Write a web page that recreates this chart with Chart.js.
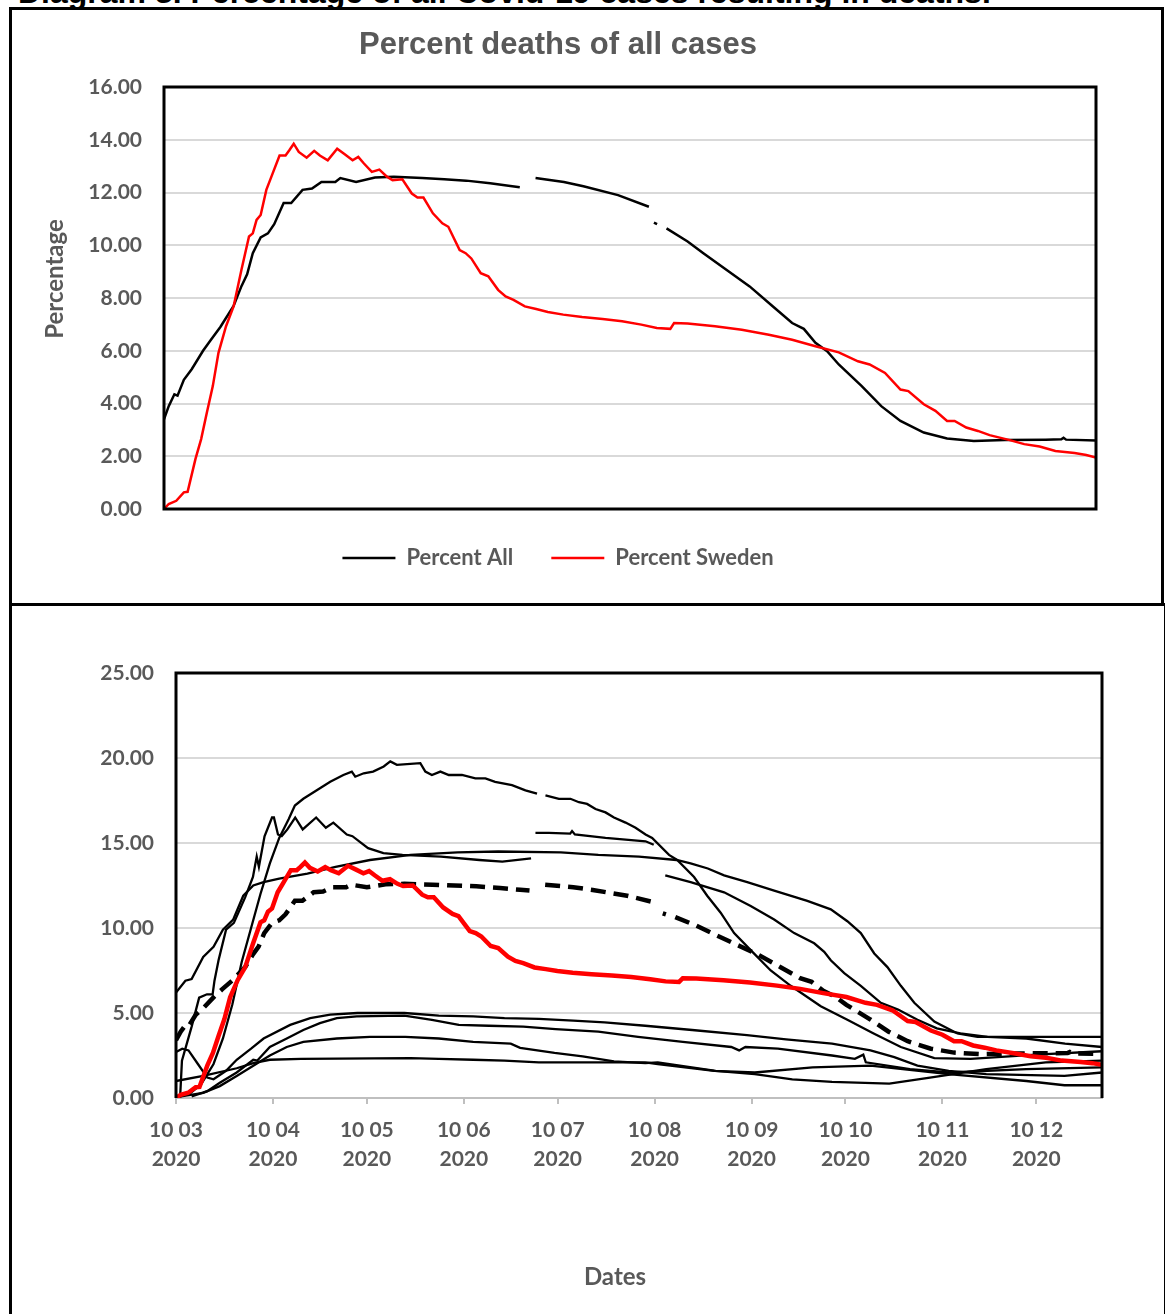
<!DOCTYPE html>
<html>
<head>
<meta charset="utf-8">
<title>Percent deaths of all cases</title>
<script src="https://cdn.jsdelivr.net/npm/chart.js@4.4.1/dist/chart.umd.min.js"></script>
<style>
  html, body { margin: 0; padding: 0; background: #fff; }
  body { width: 1165px; height: 1314px; position: relative; overflow: hidden; }
  #heading {
    position: absolute; left: 18px; top: -24px;
    font: bold 32px "Liberation Sans", Arial, sans-serif; line-height: 32px;
    white-space: nowrap; color: #000;
  }
  .frame { position: absolute; box-sizing: border-box; border: 3px solid #000; }
  #frame-top { left: 9px; top: 7px; width: 1155px; height: 599px; }
  #frame-bottom { left: 9px; top: 603px; width: 1158px; height: 800px; }
  canvas { position: absolute; left: 0; }
  #topChart { top: 0; }
  #bottomChart { top: 605px; }
</style>
</head>
<body>
<div id="heading">Diagram 3. Percentage of all Covid-19 cases resulting in deaths.</div>
<div class="frame" id="frame-top"></div>
<div class="frame" id="frame-bottom"></div>
<canvas id="topChart" width="1165" height="605"></canvas>
<canvas id="bottomChart" width="1165" height="709"></canvas>

<script>
// x values are days counted from 10 March 2020 (day 0) to 31 Dec 2020 (day 296)
const tickDays = [0, 31, 61, 92, 122, 153, 184, 214, 245, 275];
const monthLabels = ['10 03', '10 04', '10 05', '10 06', '10 07', '10 08', '10 09', '10 10', '10 11', '10 12'];
const yearLabel = '2020';

// Percent All (black in top chart, dashed in bottom chart); null = missing days
const allDays = [0, 1.5, 3.3, 4.3, 6.3, 8.8, 12.4, 14.8, 17.9, 22.1, 24.6, 26.4, 28.2, 30.7, 33, 35, 38, 40.4, 44, 47,
  50, 54.4, 56, 61, 67, 73, 82, 89, 96, 103.6, 110, 113, 115.5, 118, 127, 133.2, 144.2, 154, 154.8, 155.6,
  156.6, 158, 159.6, 166.3, 171.3, 178.6, 186, 193.4, 199.5, 203.2, 206.9, 210.6, 214.3, 221.6, 227.8, 233.9, 241.3, 248.7, 257.2, 267,
  280, 285, 285.7, 286.5, 296];
const allPct = [3.4, 3.9, 4.35, 4.3, 4.9, 5.3, 6.0, 6.4, 6.9, 7.7, 8.45, 8.9, 9.7, 10.3, 10.45, 10.8, 11.6, 11.6, 12.1, 12.15,
  12.4, 12.4, 12.55, 12.4, 12.57, 12.6, 12.55, 12.5, 12.45, 12.35, 12.25, 12.2, null, 12.55, 12.4, 12.24, 11.9, 11.46, null, 10.86,
  10.8, null, 10.64, 10.14, 9.7, 9.07, 8.44, 7.68, 7.05, 6.83, 6.3, 5.98, 5.48, 4.66, 3.9, 3.34, 2.9, 2.67, 2.58, 2.62,
  2.63, 2.64, 2.7, 2.63, 2.6];

// Percent Sweden (red)
const sweDays = [0, 1.5, 3.9, 6.3, 7.5, 10, 11.8, 13.6, 15.5, 17.3, 19.7, 22.1, 24.6, 27, 28.2, 29.4, 30.7, 32.5, 34.3, 36.7,
  38.6, 39.8, 41.2, 42.8, 45.3, 47.7, 49.5, 52, 55, 57.4, 59.9, 61.7, 63.5, 66, 68.4, 70.8, 72.6, 75.7, 78.7, 80.5,
  82.4, 85.4, 88.4, 90.3, 93.9, 95.8, 97.6, 100.6, 103, 106.1, 108.5, 111, 114.6, 118.2, 121.9, 126.8, 132.8, 139.3, 145.5, 151.6,
  156.5, 160.8, 162, 166.3, 175, 183.5, 192.1, 199.5, 206.9, 214.3, 220.4, 224.1, 229, 233.9, 236.4, 241.3, 245, 248.7, 251.1, 254.8,
  258.5, 262.2, 268.3, 273.2, 278.1, 283.1, 289.2, 292.9, 296];
const swePct = [0, 0.19, 0.31, 0.63, 0.65, 1.9, 2.65, 3.65, 4.66, 5.92, 6.93, 7.68, 9.07, 10.33, 10.45, 10.96, 11.15, 12.1, 12.66, 13.4,
  13.4, 13.6, 13.85, 13.54, 13.32, 13.58, 13.4, 13.22, 13.66, 13.45, 13.22, 13.35, 13.1, 12.78, 12.87, 12.6, 12.47, 12.5, 11.96, 11.81,
  11.81, 11.21, 10.83, 10.7, 9.82, 9.7, 9.5, 8.94, 8.82, 8.31, 8.06, 7.93, 7.68, 7.58, 7.47, 7.37, 7.28, 7.2, 7.12, 6.99,
  6.86, 6.83, 7.05, 7.03, 6.93, 6.8, 6.61, 6.42, 6.17, 5.94, 5.6, 5.48, 5.16, 4.53, 4.47, 3.97, 3.72, 3.34, 3.34, 3.09,
  2.96, 2.8, 2.62, 2.46, 2.37, 2.2, 2.12, 2.05, 1.95];

// other countries (thin black lines, bottom chart)
const aDays = [0, 3, 5, 8.7, 12, 15, 18.3, 21.5, 24.7, 28, 33, 42, 51, 62, 75, 90, 103, 123, 135, 148,
  160, 164.5, 170, 175.2, 182.6, 191.2, 201.8, 209.3, 214.6, 218.9, 223.2, 227.4, 231.7, 236, 242.4, 249.8, 256.2, 270, 296];
const aPct = [6.2, 6.9, 7.0, 8.3, 8.9, 9.9, 10.5, 11.9, 12.5, 12.7, 12.9, 13.2, 13.6, 14.0, 14.3, 14.45, 14.5, 14.45, 14.3, 14.2,
  14.0, 13.8, 13.5, 13.1, 12.7, 12.2, 11.6, 11.1, 10.4, 9.7, 8.5, 7.7, 6.6, 5.6, 4.5, 3.8, 3.6, 3.6, 3.6];

const bDays = [1.3, 1.9, 5, 7.4, 9.9, 11.7, 12.3, 13.6, 16, 18.5, 22.1, 24.6, 25.8, 26.5, 28.3, 30.7, 31.3, 32.6, 33.8, 35.6,
  38.1, 40.5, 44.8, 47.9, 50.3, 54.6, 56.4, 61.4, 66.3, 72.4, 84.7, 97, 104.3, 113.5, 114.2, 114.9, 119.2, 126, 126.6, 127.5,
  137.3, 150.1, 152.7, 154.5, 156.4, 164.5, 175.2, 183.7, 191.2, 197.6, 204, 207.2, 209.3, 213.6, 218.9, 225.3, 230.8, 237, 243.2, 250.7,
  259.4, 271.8, 284.2, 296];
const bPct = [0, 2.2, 4.2, 5.9, 6.1, 6.1, 6.9, 8.1, 9.9, 10.3, 11.8, 13.0, 14.2, 13.6, 15.4, 16.5, 16.5, 15.5, 15.4, 15.8,
  16.5, 15.8, 16.5, 15.9, 16.2, 15.5, 15.4, 14.7, 14.4, 14.3, 14.2, 14.0, 13.9, 14.1, null, 15.6, 15.6, 15.55, 15.7, 15.5,
  15.3, 15.1, 14.9, null, 13.1, 12.7, 12.1, 11.3, 10.5, 9.7, 9.1, 8.6, 8.1, 7.35, 6.6, 5.6, 5.2, 4.6, 4.1, 3.8,
  3.6, 3.5, 3.2, 3.0];

const cDays = [4, 8, 12, 15, 18, 21, 24, 27, 30, 33, 36, 38, 40.7, 45, 49.3, 53.5, 56.2, 57.3, 60, 63,
  66.4, 68.5, 70.6, 78.1, 79.7, 81.8, 84.5, 87.2, 91.4, 95.7, 98.9, 102, 107.4, 111.7, 115.4, 116.7, 118.1, 122.4, 126.1, 128.8,
  131.4, 134.1, 137.3, 140, 143.7, 146.9, 150.1, 152.2, 157.6, 160.2, 165.6, 169.8, 174.1, 178.4, 183.7, 190.1, 196.5, 206.1, 214.6, 223,
  231.7, 242.4, 254, 275, 296];
const cPct = [0.2, 0.8, 2.0, 3.5, 5.5, 8.0, 10.0, 12.0, 13.8, 15.3, 16.4, 17.2, 17.6, 18.1, 18.6, 19.0, 19.2, 18.9, 19.1, 19.2,
  19.5, 19.8, 19.6, 19.7, 19.2, 19.0, 19.2, 19.0, 19.0, 18.8, 18.8, 18.6, 18.4, 18.1, 17.9, null, 17.8, 17.6, 17.6, 17.4,
  17.3, 17.0, 16.8, 16.5, 16.2, 15.9, 15.5, 15.3, 14.3, 14.0, 13.0, 11.9, 10.9, 9.7, 8.7, 7.5, 6.6, 5.4, 4.6, 3.8,
  3.0, 2.35, 2.3, 2.55, 2.75];

const dDays = [0, 2, 4, 7, 10, 12, 16, 19.4, 24, 28, 36.5, 42.9, 49.3, 58, 73, 84, 95, 105, 116, 127,
  137, 150, 165, 182.5, 195, 209.7, 222, 229.6, 237, 247, 259, 284, 296];
const dPct = [2.7, 2.9, 2.8, 2.0, 1.2, 1.1, 1.6, 2.25, 2.9, 3.5, 4.3, 4.7, 4.9, 5.0, 5.0, 4.85, 4.8, 4.7, 4.65, 4.55,
  4.45, 4.25, 4.0, 3.7, 3.45, 3.2, 2.8, 2.4, 1.9, 1.6, 1.4, 1.3, 1.5];

const eDays = [5, 10, 14, 19.4, 24.7, 26, 30, 35.4, 40.7, 46, 51.4, 57.8, 73, 81.8, 90.4, 100, 111, 121.3, 135, 147.7,
  162, 177.5, 180, 182, 192.4, 209.7, 217, 219.7, 220.5, 234.6, 247, 271.8, 296];
const ePct = [0.1, 0.4, 0.9, 1.5, 2.25, 2.2, 3.0, 3.5, 4.0, 4.4, 4.7, 4.8, 4.85, 4.6, 4.3, 4.25, 4.2, 4.05, 3.9, 3.6,
  3.3, 3.0, 2.8, 3.0, 2.9, 2.5, 2.3, 2.55, 2.1, 1.7, 1.5, 1.7, 1.8];

const fDays = [0, 8.7, 14, 19.4, 24.7, 30, 35.4, 40.7, 51.4, 62, 73.3, 84, 95, 107, 110, 121, 130, 140, 150, 154,
  172.5, 185, 197, 209.7, 228, 241, 259, 278, 296];
const fPct = [0.05, 0.3, 0.7, 1.3, 1.9, 2.5, 3.0, 3.3, 3.5, 3.6, 3.6, 3.5, 3.3, 3.2, 2.95, 2.65, 2.45, 2.15, 2.05, 2.1,
  1.6, 1.4, 1.1, 0.95, 0.85, 1.2, 1.7, 2.1, 2.2];

const gDays = [0, 8.7, 19.4, 24.7, 30, 40, 75, 84, 95, 105, 116, 150, 154, 172, 185, 203.5, 222, 247, 271.8, 284, 296];
const gPct = [1.0, 1.3, 1.75, 2.05, 2.25, 2.3, 2.35, 2.3, 2.25, 2.2, 2.1, 2.1, 2.0, 1.6, 1.5, 1.8, 1.9, 1.4, 1.0, 0.75, 0.75];

function pairs(days, vals) {
  return days.map((d, i) => ({ x: d, y: vals[i] }));
}

const grey = '#595959';
const tickFont = { family: 'Lato', size: 21, weight: 'bold' };
const labelFont = { family: 'Lato', size: 22, weight: 'bold' };
const captionFont = 'bold 24px Lato';

// black frame around the plot area (Excel style)
const plotFrame = {
  id: 'plotFrame',
  afterDatasetsDraw(chart, args, opts) {
    const { ctx, chartArea: a } = chart;
    ctx.save();
    ctx.strokeStyle = '#000';
    ctx.lineWidth = 3;
    ctx.beginPath();
    ctx.moveTo(a.left, a.bottom);
    ctx.lineTo(a.left, a.top);
    ctx.lineTo(a.right, a.top);
    ctx.lineTo(a.right, a.bottom);
    if (opts.closed) ctx.closePath();
    ctx.stroke();
    ctx.restore();
  }
};

// axis captions sit a little off-centre in the original, so they are placed by hand
const axisCaption = {
  id: 'axisCaption',
  afterDraw(chart, args, opts) {
    if (!opts.text) return;
    const ctx = chart.ctx;
    ctx.save();
    ctx.translate(opts.x, opts.y);
    if (opts.vertical) ctx.rotate(-Math.PI / 2);
    ctx.font = captionFont;
    ctx.fillStyle = grey;
    ctx.textAlign = 'center';
    ctx.textBaseline = 'middle';
    ctx.fillText(opts.text, 0, 0);
    ctx.restore();
  }
};

// top chart
new Chart(document.getElementById('topChart'), {
  type: 'line',
  data: {
    datasets: [
      { label: 'Percent Sweden', data: pairs(sweDays, swePct), borderColor: '#ff0000', backgroundColor: '#ff0000', borderWidth: 2.5 },
      { label: 'Percent All', data: pairs(allDays, allPct), borderColor: '#000', backgroundColor: '#000', borderWidth: 2.5 }
    ]
  },
  options: {
    responsive: false,
    animation: false,
    events: [],
    elements: { point: { radius: 0 }, line: { tension: 0 } },
    layout: { padding: { left: 20, right: 69, top: 0, bottom: 26 } },
    plugins: {
      tooltip: { enabled: false },
      plotFrame: { closed: true },
      axisCaption: { text: 'Percentage', x: 55, y: 279, vertical: true },
      title: {
        display: true,
        text: 'Percent deaths of all cases',
        color: grey,
        font: { family: 'Liberation Sans', size: 31, weight: 'bold' },
        padding: { top: 26.4, bottom: 23.4 }
      },
      legend: {
        position: 'bottom',
        labels: {
          sort: (a, b) => b.datasetIndex - a.datasetIndex,
          usePointStyle: true,
          pointStyle: 'line',
          pointStyleWidth: 53,
          color: grey,
          font: labelFont,
          padding: 38
        }
      }
    },
    scales: {
      x: { type: 'linear', min: 0, max: 296, display: false },
      y: {
        min: 0,
        max: 16,
        ticks: { stepSize: 2, callback: v => v.toFixed(2), color: grey, font: tickFont, padding: 22 },
        grid: { color: '#d9d9d9', lineWidth: 2, drawTicks: false },
        border: { display: false },
        afterFit: s => { s.width = 144; }
      }
    }
  },
  plugins: [plotFrame, axisCaption]
});

// bottom chart: all countries, Sweden in red, overall average dashed
const otherSeries = [
  [aDays, aPct], [bDays, bPct], [cDays, cPct], [dDays, dPct], [eDays, ePct], [fDays, fPct], [gDays, gPct]
];

new Chart(document.getElementById('bottomChart'), {
  type: 'line',
  data: {
    datasets: [
      { label: 'Percent Sweden', data: pairs(sweDays, swePct), borderColor: '#ff0000', borderWidth: 4.5 },
      { label: 'Percent All', data: pairs(allDays, allPct), borderColor: '#000', borderWidth: 4.5, borderDash: [15, 8] }
    ].concat(otherSeries.map((s, i) => ({
      label: 'Country ' + (i + 1),
      data: pairs(s[0], s[1]),
      borderColor: '#000',
      borderWidth: 2.3
    })))
  },
  options: {
    responsive: false,
    animation: false,
    events: [],
    elements: { point: { radius: 0 }, line: { tension: 0 } },
    layout: { padding: { left: 0, right: 63, top: 68, bottom: 0 } },
    plugins: {
      tooltip: { enabled: false },
      legend: { display: false },
      plotFrame: { closed: false },
      axisCaption: { text: 'Dates', x: 615, y: 672, vertical: false }
    },
    scales: {
      x: {
        type: 'linear',
        min: 0,
        max: 296,
        afterBuildTicks: s => { s.ticks = tickDays.map(v => ({ value: v })); },
        ticks: {
          autoSkip: false,
          maxRotation: 0,
          callback: (v, i) => [monthLabels[i], yearLabel],
          color: grey,
          font: { family: 'Lato', size: 21, weight: 'bold', lineHeight: 29 / 21 },
          padding: 12
        },
        grid: { drawOnChartArea: false, drawTicks: true, tickLength: 6, color: '#bfbfbf', lineWidth: 2 },
        border: { display: true, color: '#bfbfbf', width: 2 },
        afterFit: s => { s.height = 216; }
      },
      y: {
        min: 0,
        max: 25,
        ticks: { stepSize: 5, callback: v => v.toFixed(2), color: grey, font: tickFont, padding: 22 },
        grid: { color: '#d9d9d9', lineWidth: 2, drawTicks: false },
        border: { display: false },
        afterFit: s => { s.width = 176; }
      }
    }
  },
  plugins: [plotFrame, axisCaption]
});
</script>
</body>
</html>
